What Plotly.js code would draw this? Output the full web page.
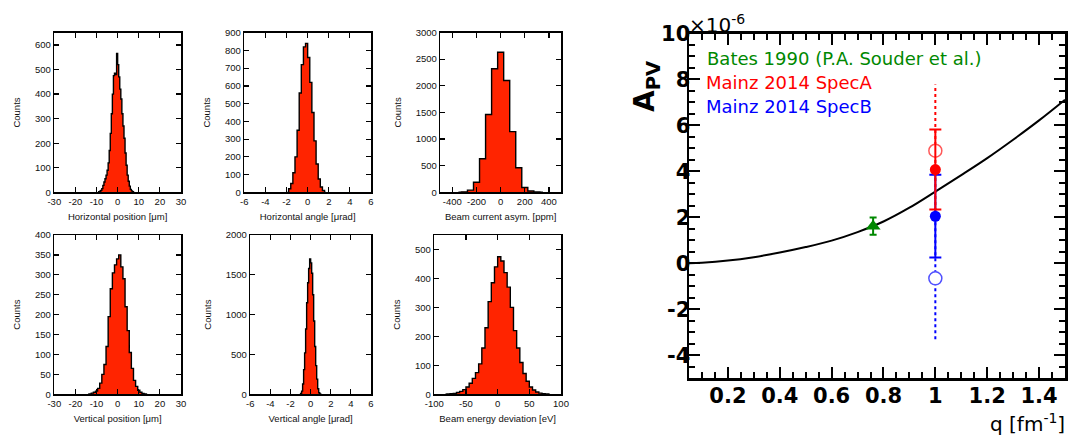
<!DOCTYPE html>
<html><head><meta charset="utf-8">
<script src="https://cdn.plot.ly/plotly-3.0.1.min.js"></script>
<style>html,body{margin:0;padding:0;background:#fff;}#chart{width:1069px;height:437px;}</style>
</head><body><div id="chart"></div>
<script>
// ---------- DATA ----------
// Panel 1: Horizontal position [um], bin width 0.5
const hposW = 0.5;
const hposX = [-8.75,-8.25,-7.75,-7.25,-6.75,-6.25,-5.75,-5.25,-4.75,-4.25,-3.75,-3.25,-2.75,-2.25,-1.75,-1.25,-0.75,-0.25,0.25,0.75,1.25,1.75,2.25,2.75,3.25,3.75,4.25,4.75,5.25,5.75,6.25,6.75,7.25];
const hposN = [2,4,8,15,28,42,55,70,90,120,170,240,320,400,475,485,480,565,520,470,420,380,320,270,220,160,110,70,45,25,12,6,2];
// Panel 2: Horizontal angle [urad], bin width 0.2
const hangW = 0.2;
const hangX = [-1.7,-1.5,-1.3,-1.1,-0.9,-0.7,-0.5,-0.3,-0.1,0.1,0.3,0.5,0.7,0.9,1.1,1.3,1.5];
const hangN = [20,50,110,200,350,560,720,820,840,760,620,450,290,160,75,30,10];
// Panel 3: Beam current asym. [ppm], bin width 50
const bcurW = 50;
const bcurX = [-300,-250,-200,-150,-100,-50,0,50,100,150,200,250,300];
const bcurN = [8,40,190,630,1460,2320,2630,2100,1140,460,90,25,5];
// Panel 4: Vertical position [um], bin width 1
const vposW = 1;
const vposX = [-13,-12,-11,-10,-9,-8,-7,-6,-5,-4,-3,-2,-1,0,1,2,3,4,5,6,7,8,9,10,11,12,13];
const vposN = [1,3,5,8,15,28,50,75,120,195,265,305,325,340,350,320,290,220,160,105,65,35,20,10,5,2,1];
// Panel 5: Vertical angle [urad], bin width 0.1
const vangW = 0.1;
const vangX = [-0.95,-0.85,-0.75,-0.65,-0.55,-0.45,-0.35,-0.25,-0.15,-0.05,0.05,0.15,0.25,0.35,0.45,0.55,0.65,0.75,0.85,0.95];
const vangN = [10,40,130,310,520,820,1150,1400,1580,1700,1650,1520,1250,920,600,360,190,70,20,5];
// Panel 6: Beam energy deviation [eV], bin width 5
const eneW = 5;
const eneX = [-77.5,-72.5,-67.5,-62.5,-57.5,-52.5,-47.5,-42.5,-37.5,-32.5,-27.5,-22.5,-17.5,-12.5,-7.5,-2.5,2.5,7.5,12.5,17.5,22.5,27.5,32.5,37.5,42.5,47.5,52.5,57.5,62.5,67.5,72.5,77.5];
const eneN = [1,2,3,6,10,16,25,38,55,75,105,160,230,320,385,440,475,460,420,370,300,220,160,110,72,45,25,15,8,4,2,1];

// Tick values / labels (hyphen minus as in the reference)
const posTicks = [-30,-20,-10,0,10,20,30];
const posTickText = ['-30','-20','-10','0','10','20','30'];
const angTicks = [-6,-4,-2,0,2,4,6];
const angTickText = ['-6','-4','-2','0','2','4','6'];
const curTicks = [-400,-200,0,200,400];
const curTickText = ['-400','-200','0','200','400'];
const eneTicks = [-100,-50,0,50,100];
const eneTickText = ['-100','-50','0','50','100'];
const apvTicks = [-4,-2,0,2,4,6,8,10];
const apvTickText = ['-4','-2','0','2','4','6','8','10'];

// Right panel: A_PV vs q
const curveQ = [0.05,0.1,0.2,0.3,0.4,0.5,0.6,0.7,0.8,0.9,1.0,1.1,1.2,1.3,1.4,1.5];
const curveA = [0.01,0.03,0.12,0.27,0.47,0.71,0.99,1.36,1.82,2.42,3.12,3.84,4.58,5.38,6.22,7.12];
const batesQ = [0.76], batesA = [1.62], batesErr = [0.38];
const mainzQ = [1.0];
const specA = [4.08], specAErr = [1.74], specAOpen = [4.9], specAOpenErr = [2.88];
const specB = [2.05], specBErr = [1.8], specBOpen = [-0.65], specBOpenErr = [2.65];

const titles = ['Horizontal position [\u03bcm]','Horizontal angle [\u03bcrad]','Beam current asym. [ppm]',
                'Vertical position [\u03bcm]','Vertical angle [\u03bcrad]','Beam energy deviation [eV]'];
const legendTexts = ['Bates 1990 (P.A. Souder et al.)','Mainz 2014 SpecA','Mainz 2014 SpecB'];

// ---------- LAYOUT HELPERS ----------
const W = 1069, H = 437;
const dx = (a,b) => [a/W, b/W];
const dy = (top,bot) => [1-bot/H, 1-top/H];
const RED = 'rgb(255,36,0)';

function histTrace(cx, n, w, i){
  const x = [cx[0]-w].concat(cx, [cx[cx.length-1]+w]);
  const y = [0].concat(n, [0]);
  return {type:'scatter', mode:'lines', x:x, y:y, xaxis:'x'+i, yaxis:'y'+i,
    line:{shape:'hvh', color:'black', width:1.4}, fill:'tozeroy', fillcolor:RED,
    hoverinfo:'skip', showlegend:false};
}

const smallFont = {family:'Liberation Sans, Arial, sans-serif', size:9.5, color:'#111'};
function leftAxes(i, xdom, ydom, xr, xv, xt, yr, yd, title){
  const common = {showline:true, linecolor:'black', linewidth:1.5, mirror:'ticks', ticks:'inside',
    ticklen:5, tickwidth:1.2, tickcolor:'black', showgrid:false, zeroline:false, tickfont:smallFont,
    fixedrange:true};
  return {
    ['xaxis'+i]: Object.assign({}, common, {domain:xdom, range:xr, tickmode:'array', tickvals:xv, ticktext:xt,
      anchor:'y'+i, title:{text:title, font:smallFont, standoff:7}}),
    ['yaxis'+i]: Object.assign({}, common, {domain:ydom, range:yr, dtick:yd, tick0:0, anchor:'x'+i,
      title:{text:'Counts', font:smallFont, standoff:12}})
  };
}

const traces = [
  histTrace(hposX, hposN, hposW, 1),
  histTrace(hangX, hangN, hangW, 2),
  histTrace(bcurX, bcurN, bcurW, 3),
  histTrace(vposX, vposN, vposW, 4),
  histTrace(vangX, vangN, vangW, 5),
  histTrace(eneX, eneN, eneW, 6)
];

const GREEN = 'rgb(0,136,0)';
const RP = {xaxis:'x7', yaxis:'y7', hoverinfo:'skip', showlegend:false};
function dotted(q, a, e, color){
  return Object.assign({type:'scatter', mode:'lines', x:[q[0],q[0]], y:[a[0]-e[0], a[0]+e[0]],
    line:{color:color, width:2, dash:'dot'}}, RP);
}
traces.push(Object.assign({type:'scatter', mode:'lines', x:curveQ, y:curveA,
  line:{color:'black', width:2, shape:'spline', smoothing:1}}, RP));
traces.push(dotted(mainzQ, specAOpen, specAOpenErr, 'red'));
traces.push(dotted(mainzQ, specBOpen, specBOpenErr, 'blue'));
traces.push(Object.assign({type:'scatter', mode:'markers', x:mainzQ, y:specAOpen,
  marker:{symbol:'circle', size:13, color:'white', line:{color:'rgb(255,90,90)', width:1.5}}}, RP));
traces.push(Object.assign({type:'scatter', mode:'markers', x:mainzQ, y:specBOpen,
  marker:{symbol:'circle', size:13, color:'white', line:{color:'rgb(80,80,255)', width:1.5}}}, RP));
traces.push(Object.assign({type:'scatter', mode:'markers', x:mainzQ, y:specB,
  marker:{symbol:'circle', size:11, color:'blue'},
  error_y:{type:'data', array:specBErr, color:'blue', thickness:2, width:6}}, RP));
traces.push(Object.assign({type:'scatter', mode:'markers', x:mainzQ, y:specA,
  marker:{symbol:'circle', size:11, color:'red'},
  error_y:{type:'data', array:specAErr, color:'red', thickness:2, width:6}}, RP));
traces.push(Object.assign({type:'scatter', mode:'markers', x:batesQ, y:batesA,
  marker:{symbol:'triangle-up', size:13, color:GREEN},
  error_y:{type:'data', array:batesErr, color:GREEN, thickness:2, width:3.5}}, RP));

const layout = {
  width:W, height:H, margin:{l:0,r:0,t:0,b:0}, paper_bgcolor:'white', plot_bgcolor:'white',
  showlegend:false,
  annotations:[]
};
Object.assign(layout,
  leftAxes(1, dx(54.3,181), dy(32.7,192.3), [-30,30], posTicks, posTickText, [0,650], 100, titles[0]),
  leftAxes(2, dx(244.3,371), dy(32.7,192.3), [-6,6], angTicks, angTickText, [0,900], 100, titles[1]),
  leftAxes(3, dx(440.3,561), dy(32.5,192.3), [-500,500], curTicks, curTickText, [0,3000], 500, titles[2]),
  leftAxes(4, dx(54.3,181), dy(235,394.3), [-30,30], posTicks, posTickText, [0,400], 50, titles[3]),
  leftAxes(5, dx(250.3,371), dy(235,394.3), [-6,6], angTicks, angTickText, [0,2000], 500, titles[4]),
  leftAxes(6, dx(434.3,561), dy(235,394.3), [-100,100], eneTicks, eneTickText, [0,550], 100, titles[5])
);

const bigTick = {family:'DejaVu Sans, sans-serif', size:21, color:'black', weight:'bold'};
const rCommon = {showline:true, linecolor:'black', linewidth:2.5, mirror:'ticks', ticks:'inside',
  ticklen:11, tickwidth:2, tickcolor:'black', showgrid:false, zeroline:false, tickfont:bigTick,
  fixedrange:true};
layout.xaxis7 = Object.assign({}, rCommon, {domain:dx(689,1065), range:[0.05,1.5], dtick:0.2, tick0:0,
  anchor:'y7', ticklabelstandoff:-3,
  minor:{ticks:'inside', ticklen:6, tickwidth:2, tickcolor:'black', dtick:0.05, tick0:0}});
layout.yaxis7 = Object.assign({}, rCommon, {domain:dy(33.5,378.3), range:[-5,10], tickmode:'array',
  tickvals:apvTicks, ticktext:apvTickText, anchor:'x7', ticklabelstandoff:-8,
  minor:{ticks:'inside', ticklen:6, tickwidth:2, tickcolor:'black', dtick:0.5, tick0:0}});

const ann = (x, y, text, opts) => Object.assign({xref:'paper', yref:'paper', x:x/W, y:1-y/H, text:text,
  showarrow:false, xanchor:'left', yanchor:'middle'}, opts);
const legFont = c => ({family:'DejaVu Sans, sans-serif', size:18, color:c});
layout.annotations.push(ann(705, 58, legendTexts[0], {font:legFont(GREEN)}));
layout.annotations.push(ann(704, 82, legendTexts[1], {font:legFont('red')}));
layout.annotations.push(ann(704, 106, legendTexts[2], {font:legFont('blue')}));
layout.annotations.push(ann(687, 24, '\u00d710<sup>-6</sup>', {font:{family:'DejaVu Sans, sans-serif', size:20, color:'black'}}));
layout.annotations.push(ann(646, 86, 'A<sub>PV</sub>', {xanchor:'center', textangle:-90,
  font:{family:'DejaVu Sans, sans-serif', size:28, color:'black', weight:'bold'}}));
layout.annotations.push(ann(1067, 423, 'q [fm<sup>-1</sup>]', {xanchor:'right',
  font:{family:'DejaVu Sans, sans-serif', size:20, color:'black'}}));

Plotly.newPlot('chart', traces, layout, {staticPlot:true, displayModeBar:false});
</script></body></html>
